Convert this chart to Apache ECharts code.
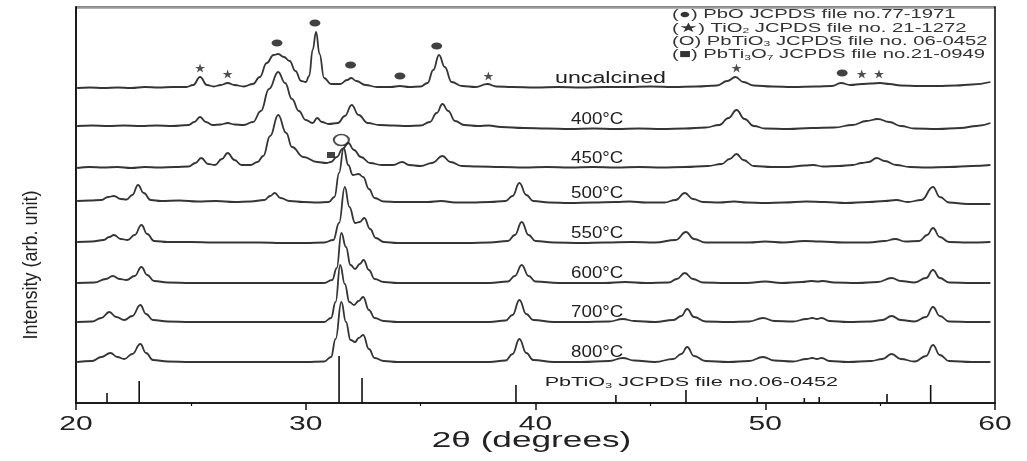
<!DOCTYPE html>
<html>
<head>
<meta charset="utf-8">
<title>XRD patterns of PbTiO3 powders</title>
<script src="https://cdn.jsdelivr.net/npm/echarts@6/dist/echarts.min.js"></script>
<style>
  html, body { margin: 0; padding: 0; background: #fff; overflow: hidden; }
  #chart { width: 1027px; height: 461px; }
</style>
</head>
<body>
<div id="chart"></div>
<script>
// ---- Data: XRD patterns, [2θ (deg), intensity above own baseline (arb. unit)] ----
const sampleLabels = ['uncalcined', '400°C', '450°C', '500°C', '550°C', '600°C', '700°C', '800°C'];
// vertical stacking offset of each pattern (arb. unit)
const offsets = [315, 274, 235, 200, 160, 120, 81, 41];

const uncalcined = [[20.05,0],[20.6,0.5],[21.2,0],[21.8,0.5],[22.4,0],[23.0,1],[23.6,0.5],[24.2,1],[24.8,1],[25.1,3],[25.4,11],[25.7,3],[26.0,1.5],[26.3,3],[26.6,5],[26.9,3],[27.3,1.5],[27.7,4],[28.0,11],[28.3,25],[28.6,33],[28.8,34],[29.05,31],[29.3,27],[29.55,17],[29.8,7],[30.0,6],[30.15,12],[30.3,38],[30.45,56],[30.6,34],[30.8,10],[31.1,4],[31.5,4],[31.8,8],[31.98,10],[32.2,7],[32.6,3],[33.1,1],[33.7,1],[34.1,2],[34.5,1],[35.0,1.5],[35.3,5],[35.55,18],[35.8,33],[36.05,21],[36.35,6],[36.8,2],[37.4,1],[37.9,4],[38.3,1.5],[39.0,1],[40.0,0.5],[41.0,1],[42.0,0.5],[43.0,1],[44.0,1],[45.0,1.5],[46.0,1],[47.0,1.5],[47.9,2.5],[48.35,7],[48.7,11],[49.05,6],[49.5,2.5],[50.3,1.5],[51.2,1],[52.2,1.5],[52.9,2],[53.3,5],[53.7,3],[54.2,4],[54.6,4.5],[55.0,5],[55.4,4],[55.9,2.5],[56.7,2],[57.5,2],[58.3,2.5],[59.0,3.5],[59.8,6]];

const t400 = [[20.05,3],[20.7,3.5],[21.4,3],[22.1,3.5],[22.8,3],[23.5,3.5],[24.2,3],[24.9,4],[25.15,7],[25.4,12],[25.65,7],[25.95,4],[26.3,4.5],[26.6,6],[26.9,4.5],[27.3,4],[27.7,7],[28.05,18],[28.4,40],[28.8,57],[29.1,46],[29.4,30],[29.7,18],[30.0,9],[30.3,6],[30.5,11],[30.7,7],[31.0,5],[31.4,6],[31.7,13],[32.0,24],[32.3,14],[32.7,6],[33.2,4],[33.8,3.5],[34.4,3],[35.0,3.5],[35.4,7],[35.7,16],[35.95,25],[36.2,18],[36.5,8],[36.9,4],[37.5,3],[37.95,3.5],[38.5,2],[39.5,1],[40.5,0.5],[41.5,0],[42.5,0.5],[43.5,0],[44.5,0.5],[45.5,0],[46.5,0.5],[47.4,1.5],[48.0,4],[48.4,11],[48.75,19],[49.1,10],[49.5,3],[50.0,0.5],[51.0,0],[52.0,1],[53.0,1.5],[53.8,4],[54.4,8],[54.9,10],[55.4,7],[55.9,3],[56.5,0.5],[57.5,0],[58.5,1],[59.2,3],[59.8,6]];

const t450 = [[20.05,0],[20.6,1],[21.2,0.5],[21.8,1],[22.4,0],[23.0,1],[23.6,0.5],[24.3,1],[24.9,1.5],[25.2,5],[25.45,10],[25.75,4],[26.05,3],[26.35,9],[26.6,15],[26.9,8],[27.2,3],[27.6,3],[27.9,6],[28.15,12],[28.45,32],[28.8,53],[29.15,35],[29.4,21],[29.9,11],[30.5,6],[30.9,5],[31.1,6],[31.35,11],[31.6,19],[31.85,25],[32.1,18],[32.4,11],[32.8,5],[33.3,3],[33.8,3],[34.2,6],[34.5,3],[35.0,2],[35.5,5],[35.95,12],[36.3,6],[36.8,2],[37.5,1.5],[38.5,1],[39.5,0.5],[40.5,1],[41.5,0.5],[42.5,1],[43.5,0.5],[44.5,1],[45.5,0.5],[46.5,1],[47.5,2],[48.1,4],[48.45,9],[48.75,14],[49.05,8],[49.5,2],[50.3,1],[51.0,1],[51.7,2.5],[52.1,3],[52.5,1.5],[53.2,2],[53.8,3],[54.2,5],[54.5,6],[54.85,10],[55.2,7],[55.7,3],[56.3,1],[57.0,0.5],[58.0,1],[59.0,2],[59.8,3]];

const t500 = [[20.05,2],[20.6,2.5],[21.1,3],[21.4,6],[21.65,7],[21.95,4],[22.2,3.5],[22.45,8],[22.7,18],[22.95,10],[23.25,3],[23.7,2],[24.5,2.5],[25.3,1.5],[26.1,2],[26.9,1],[27.6,1.5],[28.2,3],[28.45,7],[28.65,10],[28.9,5],[29.3,2],[29.9,1],[30.5,0.5],[31.0,1],[31.25,6],[31.45,30],[31.65,55],[31.85,38],[32.05,28],[32.3,29],[32.5,26],[32.75,14],[33.0,5],[33.4,1.5],[34.0,1],[34.6,1],[35.3,1],[35.9,2],[36.5,0.5],[37.2,0.5],[38.0,1],[38.7,2],[39.0,7],[39.3,20],[39.6,8],[39.9,2],[40.6,0.5],[41.5,0],[42.5,0.5],[43.5,1],[44.1,1.5],[44.8,0.5],[45.6,0.5],[46.1,3],[46.5,10],[46.85,4],[47.3,1],[48.0,0.5],[48.65,1.5],[49.2,0.5],[50.0,0],[50.8,0.5],[51.8,1.5],[52.6,1],[53.5,0],[54.5,1],[55.2,2],[55.7,3],[56.2,1],[56.8,3],[57.3,16],[57.6,6],[58.0,0.5],[58.8,-1],[59.8,-1]];

const t550 = [[20.05,1],[20.7,1.5],[21.2,3],[21.45,6],[21.65,8],[21.95,4],[22.25,3],[22.55,8],[22.85,18],[23.1,9],[23.4,2],[24.0,1],[25.0,1],[26.0,0.5],[27.0,0.5],[28.0,0.5],[29.0,0],[30.0,0],[30.8,0.5],[31.2,3],[31.45,20],[31.7,56],[31.9,36],[32.15,20],[32.35,21],[32.55,25],[32.8,14],[33.05,5],[33.4,1],[34.0,0],[35.0,0],[36.0,0],[37.0,0],[38.0,0.5],[38.8,2],[39.1,8],[39.4,21],[39.7,8],[40.0,2],[40.8,0.5],[42.0,0],[43.0,0.5],[44.2,1],[45.2,0.5],[46.1,3],[46.55,11],[46.9,4],[47.4,0.5],[48.5,0.5],[49.3,0.5],[50.0,1.5],[50.8,0.5],[51.7,2],[52.4,1.5],[53.4,0.5],[54.5,0.5],[55.2,2],[55.65,4],[56.1,1.5],[56.7,2],[57.05,8],[57.3,15],[57.6,6],[58.0,1],[58.8,0.5],[59.8,1]];

const t600 = [[20.05,0],[20.8,0.5],[21.3,4],[21.6,7],[21.9,4],[22.2,3],[22.55,7],[22.85,16],[23.1,8],[23.4,2],[24.0,0.5],[25.0,0],[26.0,0],[27.0,0],[28.0,0],[29.0,0],[30.0,0],[30.8,0],[31.15,3],[31.35,15],[31.55,50],[31.75,36],[31.95,18],[32.15,14],[32.35,19],[32.52,23],[32.75,13],[33.0,4],[33.4,1],[34.0,0],[35.0,0],[36.0,0],[37.0,0],[38.0,0],[38.8,1.5],[39.1,7],[39.4,18],[39.7,7],[40.0,1.5],[41.0,0],[42.0,0],[43.0,0],[43.9,1],[44.8,0],[45.8,0.5],[46.15,4],[46.5,10],[46.85,4],[47.3,0.5],[48.3,0],[49.2,0],[50.0,1.5],[50.7,0],[51.6,1],[52.0,2],[52.3,1.5],[52.5,2],[53.0,0.5],[54.0,0],[54.9,1],[55.5,5],[55.9,2],[56.5,0.5],[57.0,5],[57.3,13],[57.6,5],[58.0,0.5],[59.0,0],[59.8,0]];

const t700 = [[20.05,0],[20.7,0.5],[21.1,4],[21.45,10],[21.75,5],[22.1,2],[22.45,6],[22.8,17],[23.05,8],[23.35,2],[24.0,0.5],[25.0,0],[26.0,0],[27.0,0],[28.0,0],[29.0,0],[30.0,0],[30.8,0],[31.1,4],[31.3,20],[31.5,57],[31.7,38],[31.9,20],[32.1,17],[32.3,21],[32.5,25],[32.75,12],[33.0,4],[33.4,1],[34.0,0],[35.0,0],[36.0,0],[37.0,0],[38.0,0],[38.7,1.5],[39.0,7],[39.3,22],[39.6,8],[39.9,2],[40.8,0],[42.0,0],[43.2,0.5],[43.8,3],[44.3,1],[45.2,0],[46.0,2],[46.35,6],[46.6,13],[46.9,5],[47.4,0.5],[48.4,0],[49.3,0.5],[49.9,4],[50.4,1],[51.2,0.5],[51.8,3],[52.05,4],[52.25,3],[52.45,4],[52.8,1],[53.6,0],[54.6,0.5],[55.1,2],[55.5,6],[55.9,2],[56.5,0.5],[57.0,5],[57.3,15],[57.6,6],[58.0,0.5],[59.0,0],[59.8,0]];

const t800 = [[20.05,0],[20.7,1],[21.1,5],[21.5,9],[21.8,5],[22.1,3],[22.45,8],[22.8,18],[23.05,9],[23.35,2],[24.0,0.5],[25.0,0],[26.0,0],[27.0,0],[28.0,0],[29.0,0],[30.0,0],[30.8,0.5],[31.1,5],[31.3,23],[31.55,60],[31.75,40],[31.95,22],[32.15,20],[32.3,24],[32.5,27],[32.75,13],[33.0,4],[33.4,1],[34.0,0],[35.0,0],[36.0,0],[37.0,0],[38.0,0],[38.7,1.5],[39.0,8],[39.3,23],[39.6,9],[39.9,2],[40.8,0],[42.0,0],[43.2,1],[43.8,4],[44.3,1.5],[45.2,0],[46.0,3],[46.35,8],[46.6,15],[46.9,6],[47.4,1],[48.4,0],[49.3,1],[49.9,5],[50.4,1.5],[51.2,0.5],[51.8,3],[52.05,4],[52.25,3],[52.45,4],[52.8,1],[53.6,0],[54.6,1],[55.1,3],[55.5,8],[55.9,3],[56.5,0.5],[57.0,6],[57.3,17],[57.6,7],[58.0,1],[59.0,0],[59.8,0]];

const patterns = [uncalcined, t400, t450, t500, t550, t600, t700, t800];

// PbTiO3 reference lines (JCPDS 06-0452)
const refPeaks2T  = [21.35, 22.75, 31.45, 32.45, 39.15, 43.5, 46.55, 49.65, 51.7, 52.35, 55.3, 57.2];
const refPeaksInt = [10, 22, 47, 25, 18, 8, 13, 6, 5, 6, 9, 18];

// phase identification marks [2θ, intensity level]
const pboMarks    = [[28.75,360],[30.4,380],[31.95,338],[34.1,327],[35.7,357],[53.35,330]];
const tio2Marks   = [[25.4,335],[26.6,329],[37.95,327],[48.75,335],[54.2,329],[54.95,329]];
const pbtio3Marks = [[31.55,263]];
const pbti3o7Marks = [[31.1,248]];

const xTickLabels = [20, 30, 40, 50, 60];

// ---- Chart ----
const chart = echarts.init(document.getElementById('chart'), null, { renderer: 'canvas', width: 1027, height: 461 });
const INK = '#111';
const TRACE = '#353535';
const FONT = '"Liberation Sans", Arial, Helvetica, sans-serif';
const STAR = 'path://M50 0 L61.8 35.1 L98.9 35.1 L68.9 56.7 L80.3 91.9 L50 70.2 L19.7 91.9 L31.1 56.7 L1.1 35.1 L38.2 35.1 Z';
const Y_MAX = 396;

const traceSeries = patterns.map((pts, i) => ({
  type: 'line',
  name: sampleLabels[i],
  data: pts.map(([t, h]) => [t, h + offsets[i]]),
  showSymbol: false,
  smooth: 0.45,
  smoothMonotone: 'x',
  lineStyle: { color: TRACE, width: 1.8 },
  silent: true,
  z: 2
}));

const stickSeries = {
  type: 'custom',
  data: refPeaks2T.map((t, k) => [t, refPeaksInt[k]]),
  renderItem: (params, api) => {
    const p0 = api.coord([api.value(0), 0]);
    const p1 = api.coord([api.value(0), api.value(1)]);
    return { type: 'line', shape: { x1: p0[0], y1: p0[1], x2: p1[0], y2: p1[1] },
             style: { stroke: INK, lineWidth: 1.6 } };
  },
  silent: true,
  z: 3
};

// grey top edge of the plot frame, drawn over the grid border
const frameTopSeries = {
  type: 'custom',
  data: [[20, Y_MAX]],
  renderItem: (params, api) => {
    const tl = api.coord([20, Y_MAX]);
    const tr = api.coord([60, Y_MAX]);
    return { type: 'line', shape: { x1: tl[0] + 1, y1: tl[1] + 0.5, x2: tr[0] - 1, y2: tr[1] + 0.5 },
             style: { stroke: '#9a9a9a', lineWidth: 2.4 } };
  },
  clip: false,
  silent: true,
  z: 6
};

const markSeries = [
  { data: pboMarks, symbol: 'circle', symbolSize: [11, 7], itemStyle: { color: INK } },
  { data: tio2Marks, symbol: STAR, symbolSize: [10, 9], itemStyle: { color: '#222' } },
  { data: pbtio3Marks, symbol: 'circle', symbolSize: [15, 11],
    itemStyle: { color: 'rgba(0,0,0,0)', borderColor: '#222', borderWidth: 1.8 } },
  { data: pbti3o7Marks, symbol: 'rect', symbolSize: [8, 6], itemStyle: { color: INK } }
].map(s => Object.assign({ type: 'scatter', silent: true, z: 4 }, s));

chart.setOption({
  animation: false,
  backgroundColor: '#fff',
  grid: { left: 76, right: 32, top: 7, bottom: 58, containLabel: false,
          show: true, borderColor: INK, borderWidth: 1.6, backgroundColor: 'rgba(0,0,0,0)' },
  xAxis: {
    type: 'value', min: 20, max: 60, interval: 10,
    axisLine: { onZero: false, lineStyle: { color: INK, width: 1.5 } },
    axisTick: { show: true, inside: false, length: 7, lineStyle: { color: INK, width: 1.5 } },
    minorTick: { show: true, splitNumber: 2, length: 3, lineStyle: { color: INK, width: 1.2 } },
    axisLabel: { show: false }, splitLine: { show: false }
  },
  yAxis: {
    type: 'value', min: 0, max: Y_MAX,
    axisLine: { show: true, onZero: false, lineStyle: { color: INK, width: 1.5 } },
    axisTick: { show: false }, axisLabel: { show: false }, splitLine: { show: false }
  },
  series: [...traceSeries, stickSeries, frameTopSeries, ...markSeries]
});

// ---- Text annotations, placed through the axes ----
const toPx = (t, v) => chart.convertToPixel({ xAxisIndex: 0, yAxisIndex: 0 }, [t, v]);
const textEl = (text, x, y, size, sx, align, extra) => ({
  type: 'text', x: x, y: y, scaleX: sx, silent: true, z: 10,
  style: Object.assign({ text: text, x: 0, y: 0, fill: '#222', font: size + 'px ' + FONT,
                         textAlign: align, textVerticalAlign: 'middle' }, extra || {})
});

const graphics = [];

// tick labels of the 2θ axis
xTickLabels.forEach(v => {
  const p = toPx(v, 0);
  graphics.push(textEl(String(v), p[0], p[1] + 21, 20, 1.5, 'center'));
});

// axis titles
const axisMid = toPx(40, 0);
graphics.push(textEl('2θ (degrees)', axisMid[0] - 4, axisMid[1] + 38, 22, 1.6, 'center'));
graphics.push(Object.assign(textEl('Intensity (arb. unit)', 31, 265, 20, 0.9, 'center'),
                            { rotation: Math.PI / 2 }));

// pattern labels
sampleLabels.forEach((lab, i) => {
  const p = toPx(i === 0 ? 40.85 : 41.55, offsets[i] + 9);
  graphics.push(textEl(lab, p[0], p[1], 16, i === 0 ? 1.45 : 1.17, 'left'));
});

// reference pattern caption
const cap = toPx(40.4, 21);
graphics.push(textEl('PbTiO{s|3} JCPDS file no.06-0452', cap[0], cap[1], 13.5, 1.6, 'left', {
  rich: { s: { fontSize: 8, fontFamily: 'Liberation Sans', verticalAlign: 'bottom', lineHeight: 16, fill: '#222' } }
}));

// phase key
const keyLines = [
  '(●) PbO JCPDS file no.77-1971',
  '(★) TiO{s|2} JCPDS file no. 21-1272',
  '(O) PbTiO{s|3} JCPDS file no. 06-0452',
  '(■) PbTi{s|3}O{s|7} JCPDS file no.21-0949'
];
keyLines.forEach((line, k) => {
  graphics.push(textEl(line, 672, 15 + k * 13.2, 12.5, 1.62, 'left', {
    fill: '#333',
    rich: { s: { fontSize: 7.5, fontFamily: 'Liberation Sans', verticalAlign: 'bottom', lineHeight: 14, fill: '#333' } }
  }));
});

chart.setOption({ graphic: graphics });
</script>
</body>
</html>
